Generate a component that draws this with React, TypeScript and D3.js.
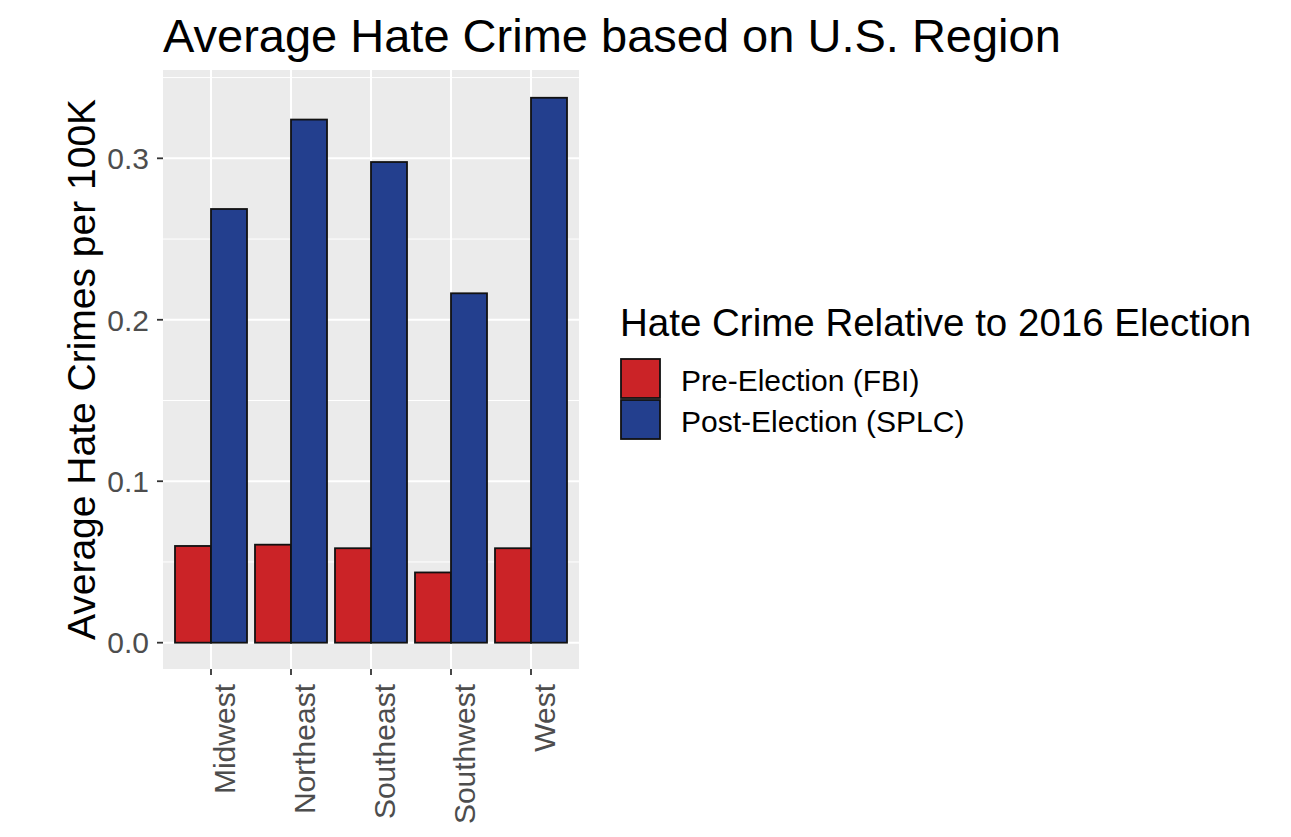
import React from "react";
import * as d3 from "d3";

const regions = ["Midwest", "Northeast", "Southeast", "Southwest", "West"];
const seriesKeys = ["pre", "post"];
const seriesLabels = ["Pre-Election (FBI)", "Post-Election (SPLC)"];
const seriesColors = ["#CB2327", "#233F8E"];
const preElection = [0.0599, 0.0607, 0.0585, 0.0435, 0.0585];
const postElection = [0.2686, 0.324, 0.2977, 0.2164, 0.3375];
const yTicks = [0.0, 0.1, 0.2, 0.3];
const yMinor = [0.05, 0.15, 0.25, 0.35];

const W = 1291;
const H = 837;
const panel = { left: 163, right: 579, top: 70, bottom: 669 };
const FONT = "'Liberation Sans', Arial, Helvetica, sans-serif";

export default function App() {
  const x = d3
    .scalePoint<string>()
    .domain(regions)
    .range([panel.left, panel.right])
    .padding(0.6);
  const step = x.step();
  const barW = step * 0.45;
  const sub = d3
    .scaleBand<string>()
    .domain(seriesKeys)
    .range([-step * 0.45, step * 0.45]);

  const y = d3.scaleLinear().domain([-0.0163, 0.3547]).range([panel.bottom, panel.top]);
  const values = [preElection, postElection];

  return (
    <svg
      width={W}
      height={H}
      style={{ position: "absolute", left: 0, top: 0, background: "#fff" }}
      fontFamily={FONT}
    >
      <text x={163} y={52} fontSize={47} fill="#000">
        Average Hate Crime based on U.S. Region
      </text>

      {/* panel */}
      <rect
        x={panel.left}
        y={panel.top}
        width={panel.right - panel.left}
        height={panel.bottom - panel.top}
        fill="#EBEBEB"
      />
      {yMinor.map((v) => (
        <line
          key={"mi" + v}
          x1={panel.left}
          x2={panel.right}
          y1={y(v)}
          y2={y(v)}
          stroke="#fff"
          strokeWidth={1}
        />
      ))}
      {yTicks.map((v) => (
        <line
          key={"ma" + v}
          x1={panel.left}
          x2={panel.right}
          y1={y(v)}
          y2={y(v)}
          stroke="#fff"
          strokeWidth={2}
        />
      ))}
      {regions.map((r) => (
        <line
          key={"vx" + r}
          x1={x(r)}
          x2={x(r)}
          y1={panel.top}
          y2={panel.bottom}
          stroke="#fff"
          strokeWidth={2}
        />
      ))}

      {/* bars */}
      {regions.map((r, i) =>
        seriesKeys.map((k, j) => {
          const v = values[j][i];
          const x0 = (x(r) as number) + (sub(k) as number);
          return (
            <rect
              key={r + k}
              x={x0}
              y={y(v)}
              width={barW}
              height={y(0) - y(v)}
              fill={seriesColors[j]}
              stroke="#111"
              strokeWidth={1.8}
            />
          );
        })
      )}

      {/* y axis */}
      {yTicks.map((v) => (
        <g key={"yt" + v}>
          <line x1={157} x2={panel.left} y1={y(v)} y2={y(v)} stroke="#333" strokeWidth={1.8} />
          <text
            x={149}
            y={y(v)}
            dy="0.36em"
            textAnchor="end"
            fontSize={30}
            fill="#4D4D4D"
          >
            {d3.format(".1f")(v)}
          </text>
        </g>
      ))}
      <text
        transform={`translate(95, ${(panel.top + panel.bottom) / 2}) rotate(-90)`}
        textAnchor="middle"
        fontSize={39}
        fill="#000"
      >
        Average Hate Crimes per 100K
      </text>

      {/* x axis */}
      {regions.map((r) => (
        <g key={"xt" + r}>
          <line
            x1={x(r)}
            x2={x(r)}
            y1={panel.bottom}
            y2={panel.bottom + 6}
            stroke="#333"
            strokeWidth={1.8}
          />
          <text
            transform={`translate(${(x(r) as number) + 24}, ${panel.bottom + 15}) rotate(-90)`}
            textAnchor="end"
            fontSize={30}
            fill="#4D4D4D"
          >
            {r}
          </text>
        </g>
      ))}

      {/* legend */}
      <text x={620} y={336} fontSize={38.5} fill="#000">
        Hate Crime Relative to 2016 Election
      </text>
      {seriesLabels.map((lab, j) => (
        <g key={"lg" + j}>
          <rect
            x={621}
            y={359 + j * 41}
            width={39}
            height={39}
            fill={seriesColors[j]}
            stroke="#111"
            strokeWidth={1.8}
          />
          <text x={681} y={391 + j * 41} fontSize={30} fill="#000">
            {lab}
          </text>
        </g>
      ))}
    </svg>
  );
}
